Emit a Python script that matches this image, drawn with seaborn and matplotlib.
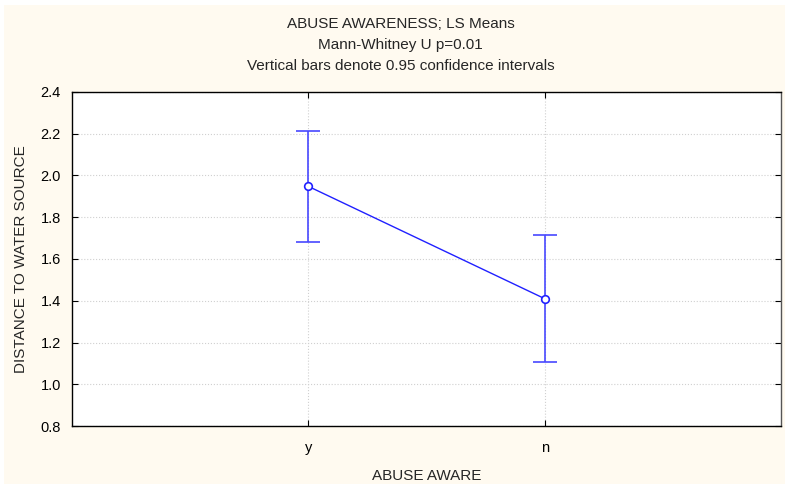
import pandas as pd
import matplotlib
matplotlib.use('Agg')
import matplotlib.pyplot as plt
import seaborn as sns

# LS means and 0.95 confidence limits
groups = ['y', 'n']
means = [1.948, 1.410]
ci_low = [1.683, 1.108]
ci_high = [2.214, 1.715]

titles = ['ABUSE AWARENESS; LS Means',
          'Mann-Whitney U p=0.01',
          'Vertical bars denote 0.95 confidence intervals']

sns.set_style('white')
plt.rcParams['font.family'] = ['Liberation Sans', 'DejaVu Sans']

blue = '#2020ff'
bar_blue = '#4848ff'
bg = '#fffaf0'

df = pd.DataFrame({'ABUSE AWARE': groups, 'mean': means,
                   'lo': ci_low, 'hi': ci_high})

fig = plt.figure(figsize=(7.85, 4.84), dpi=100, facecolor='white')
fig.patches.append(plt.Rectangle((4 / 785, 0), 1, 1 - 5 / 484,
                                 transform=fig.transFigure, facecolor=bg,
                                 edgecolor='none', zorder=-10))
ax = fig.add_axes([72 / 785, 1 - 426 / 484, 709 / 785, 334 / 484])
ax.set_facecolor('white')

# confidence interval bars
for i, row in df.iterrows():
    ax.errorbar(i, row['mean'],
                yerr=[[row['mean'] - row['lo']], [row['hi'] - row['mean']]],
                fmt='none', ecolor=bar_blue, elinewidth=1.2, capsize=8.7,
                capthick=1.2, zorder=2)

sns.pointplot(data=df, x='ABUSE AWARE', y='mean', color=blue,
              errorbar=None, markers='o', linewidth=1, markersize=5.5,
              markerfacecolor='white', markeredgecolor=blue,
              markeredgewidth=1.2, ax=ax, zorder=3)

ax.set_xlim(-1, 2)
ax.set_ylim(0.8, 2.4)
ax.set_yticks([0.8, 1.0, 1.2, 1.4, 1.6, 1.8, 2.0, 2.2, 2.4])
ax.set_yticklabels([f'{v:.1f}' for v in ax.get_yticks()])
ax.grid(True, color='#d0d0d0', linestyle=':', linewidth=0.8)
ax.set_axisbelow(True)
ax.tick_params(direction='in', length=4, width=0.8, top=True, right=True,
               left=True, bottom=True, labelsize=10.5, colors='black')
ax.tick_params(axis='y', pad=8)
ax.tick_params(axis='x', pad=11)
for s in ax.spines.values():
    s.set_color('black')
    s.set_linewidth(1.0)
ax.spines['right'].set_color('#555555')

ax.set_xlabel('ABUSE AWARE', fontsize=11, labelpad=10)
ax.set_ylabel('DISTANCE TO WATER SOURCE', fontsize=11, labelpad=9)

for k, t in enumerate(titles):
    fig.text(400.5 / 785, 1 - (24.5 + 21 * k) / 484, t, ha='center',
             va='center', fontsize=11)

fig.savefig('out.png', dpi=100, facecolor=fig.get_facecolor())
